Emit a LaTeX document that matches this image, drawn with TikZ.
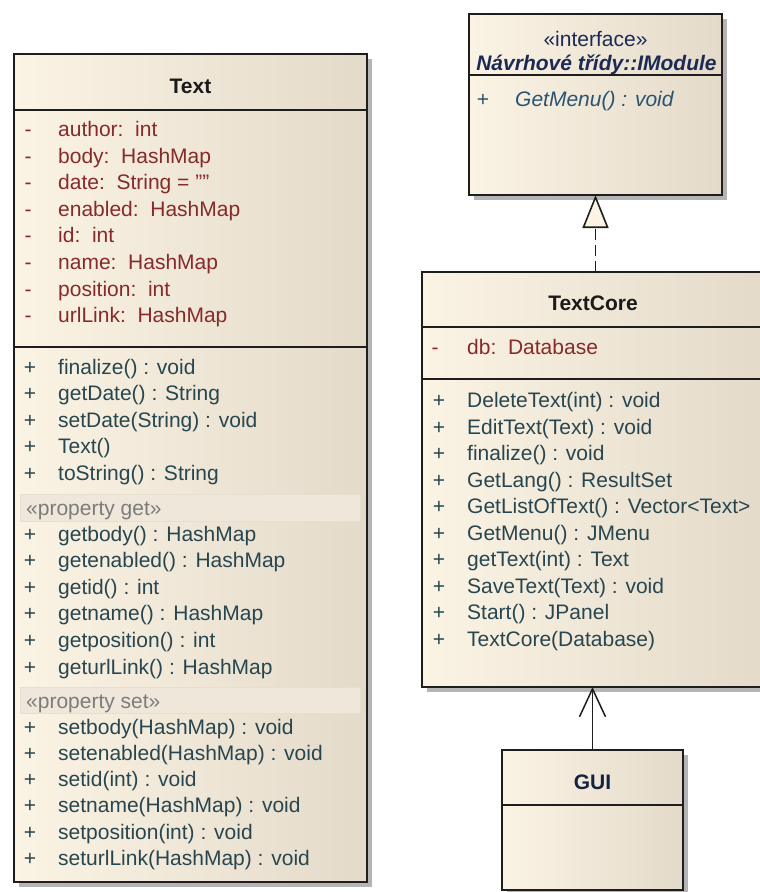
\documentclass[tikz,border=0pt]{standalone}
\usepackage{fontspec}
\setmainfont{Liberation Sans}
\usetikzlibrary{arrows.meta,shadows}

\definecolor{fillL}{HTML}{FBF3E3}
\definecolor{fillR}{HTML}{E3DACA}
\definecolor{shade}{HTML}{B4B4B4}
\definecolor{edge}{HTML}{1E1E1E}
\definecolor{attrc}{HTML}{862A2A}
\definecolor{opc}{HTML}{284650}
\definecolor{bandc}{HTML}{EFE8DA}
\definecolor{stereoc}{HTML}{7C7C7C}
\definecolor{navy}{HTML}{1C2A55}
\definecolor{absop}{HTML}{2C5470}
\definecolor{ttl}{HTML}{1A1A1A}

\tikzset{
  classbox/.style={draw=edge, line width=1.6pt, left color=fillL,
    middle color=fillL!85!fillR, right color=fillR,
    drop shadow={shadow xshift=5pt, shadow yshift=-5pt, fill=shade, opacity=1},
    inner sep=0pt, outer sep=0pt},
  sep/.style={draw=edge, line width=1.6pt},
  txt/.style={font=\fontsize{21}{25}\selectfont, anchor=base west, inner sep=0pt},
  attr/.style={txt, text=attrc},
  oper/.style={txt, text=opc},
  vis/.style={anchor=base},
  title/.style={font=\fontsize{21}{25}\selectfont\bfseries, anchor=base, inner sep=0pt, text=ttl},
  band/.style={fill=bandc, draw=bandc!96!black, line width=0.3pt},
  stereo/.style={txt, text=stereoc},
}

\begin{document}
\begin{tikzpicture}[x=1pt, y=-1pt]
\useasboundingbox (0,0) rectangle (760,892);
\clip (0,0) rectangle (760,892);

% ---------- class boxes ----------
\node[classbox, minimum width=353pt, minimum height=828pt] (text) at (190.5,468) {};
\node[classbox, minimum width=253pt, minimum height=181pt] (imodule) at (595.5,104.5) {};
\node[classbox, minimum width=342pt, minimum height=415pt] (textcore) at (593,479.5) {};
\node[classbox, minimum width=181pt, minimum height=140pt] (gui) at (592.5,820) {};

% ---------- class Text ----------
\node[title] (textname) at (text.center |- 0,93) {Text};
\draw[sep] (text.west |- 0,110) -- (text.east |- 0,110);
\draw[sep] (text.west |- 0,347) -- (text.east |- 0,347);

\foreach \n [count=\i from 0] in {{author:\ \ int},{body:\ \ HashMap},{date:\ \ String = ""},
    {enabled:\ \ HashMap},{id:\ \ int},{name:\ \ HashMap},{position:\ \ int},{urlLink:\ \ HashMap}}{
  \node[attr, vis] (tam\i) at (28,{136.5+26.6*\i}) {-};
  \node[attr] (ta\i) at (58,{136.5+26.6*\i}) {\n};
}
\foreach \n [count=\i from 0] in {{finalize() : void},{getDate() : String},{setDate(String) : void},
    {Text()},{toString() : String}}{
  \node[oper, vis] (tom\i) at (30,{374+26.6*\i}) {+};
  \node[oper] (to\i) at (58,{374+26.6*\i}) {\n};
}
\fill[band] (20,494) rectangle (360,521);
\node[stereo] (getlabel) at (26,515) {«property get»};
\foreach \n [count=\i from 0] in {{getbody() : HashMap},{getenabled() : HashMap},{getid() : int},
    {getname() : HashMap},{getposition() : int},{geturlLink() : HashMap}}{
  \node[oper, vis] (tgm\i) at (30,{541+26.6*\i}) {+};
  \node[oper] (tg\i) at (58,{541+26.6*\i}) {\n};
}
\fill[band] (20,687) rectangle (360,713);
\node[stereo] (setlabel) at (26,708) {«property set»};
\foreach \n [count=\i from 0] in {{setbody(HashMap) : void},{setenabled(HashMap) : void},{setid(int) : void},
    {setname(HashMap) : void},{setposition(int) : void},{seturlLink(HashMap) : void}}{
  \node[oper, vis] (tsm\i) at (30,{734+26.3*\i}) {+};
  \node[oper] (ts\i) at (58,{734+26.3*\i}) {\n};
}

% ---------- interface IModule ----------
\node[title, font=\fontsize{21}{25}\selectfont, text=navy] (imstereo) at (imodule.center |- 0,46) {«interface»};
\node[title, font=\fontsize{21}{25}\selectfont\bfseries\itshape, text=navy] (imname) at (596.5,70.5) {Návrhové třídy::IModule};
\draw[sep] (imodule.west |- 0,75) -- (imodule.east |- 0,75);
\node[oper, vis, text=absop] (imm0) at (483,106) {+};
\node[oper, text=absop, font=\fontsize{21}{25}\selectfont\itshape] (im0) at (515,106) {GetMenu() : void};

% ---------- class TextCore ----------
\node[title] (tcname) at (textcore.center |- 0,310) {TextCore};
\draw[sep] (textcore.west |- 0,327) -- (textcore.east |- 0,327);
\draw[sep] (textcore.west |- 0,379) -- (textcore.east |- 0,379);
\node[attr, vis] (cam0) at (435,354) {-};
\node[attr] (ca0) at (467,354) {db:\ \ Database};
\foreach \n [count=\i from 0] in {{DeleteText(int) : void},{EditText(Text) : void},{finalize() : void},
    {GetLang() : ResultSet},{GetListOfText() : Vector<Text>},{GetMenu() : JMenu},{getText(int) : Text},
    {SaveText(Text) : void},{Start() : JPanel},{TextCore(Database)}}{
  \node[oper, vis] (com\i) at (439,{407.5+26.5*\i}) {+};
  \node[oper] (co\i) at (467,{407.5+26.5*\i}) {\n};
}

% ---------- class GUI ----------
\node[title, text=navy!80!black] (guiname) at (gui.center |- 0,789.5) {GUI};
\draw[sep] (gui.west |- 0,805) -- (gui.east |- 0,805);

% ---------- relations ----------
\draw[edge, line width=1.6pt, dash pattern=on 11pt off 5pt,
  -{Triangle[open, length=33pt, width=26pt, fill=fillL]}]
  (imodule.south |- textcore.north) -- (imodule.south);
\draw[edge, line width=1.5pt, -{Straight Barb[length=28pt, width=26pt]}]
  (gui.north) -- (gui.north |- textcore.south);
\end{tikzpicture}
\end{document}
